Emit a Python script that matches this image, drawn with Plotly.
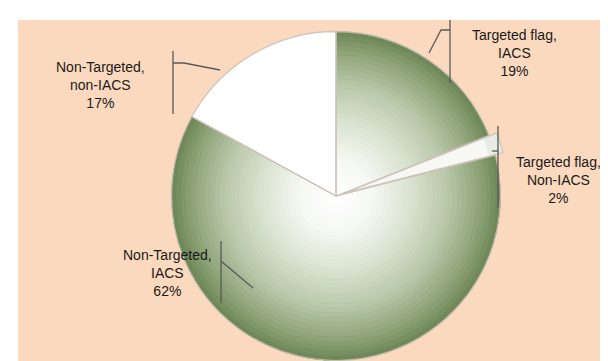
import plotly.graph_objects as go

# ---------------- data ----------------
categories = ["Targeted flag, IACS", "Targeted flag, Non-IACS",
              "Non-Targeted, IACS", "Non-Targeted, non-IACS"]
shares = [19, 2, 62, 17]
pulls = [0, 0.05, 0, 0]

# ---------------- layout constants ----------------
W, H = 608, 361
CX, CY, R = 328, 188, 164.5
PEACH = "#FBD9BE"
TEXT = "#1A1A1A"
LEAD = "#5A5A5A"


def px(x):
    return x / W


def py(y):
    return 1 - y / H


half = R * (1 + max(pulls))
domain = dict(x=[px(CX - half), px(CX + half)], y=[py(CY + half), py(CY - half)])

# radial gradient stops for the green slices (t = fraction of radius)
stops = [(0.0, (255, 255, 255)), (0.22, (246, 248, 243)), (0.45, (218, 227, 210)),
         (0.68, (184, 199, 169)), (0.86, (146, 166, 124)), (1.0, (108, 134, 84))]


def grad(t):
    for (t0, c0), (t1, c1) in zip(stops[:-1], stops[1:]):
        if t <= t1:
            f = (t - t0) / (t1 - t0)
            return "rgb(%d,%d,%d)" % tuple(round(a + (b - a) * f) for a, b in zip(c0, c1))
    return "rgb(%d,%d,%d)" % stops[-1][1]


slice_kind = ["green", "light", "green", "white"]

fig = go.Figure()
N = 34
for i in range(N):
    t = (i + 0.5) / N
    cols = []
    for k in slice_kind:
        if k == "green":
            cols.append(grad(t))
        elif k == "white":
            cols.append("#FFFFFF")
        else:
            cols.append("#F7F8F4" if t < 0.9 else "#E8EBE3")
    fig.add_trace(go.Pie(
        labels=categories, values=shares, pull=pulls, hole=i / N,
        sort=False, direction="clockwise", rotation=0,
        marker=dict(colors=cols, line=dict(width=0)),
        textinfo="none", hoverinfo="none", showlegend=False, domain=domain,
    ))

# slice borders
fig.add_trace(go.Pie(
    labels=categories, values=shares, pull=pulls,
    sort=False, direction="clockwise", rotation=0,
    marker=dict(colors=["rgba(0,0,0,0)"] * 4,
                line=dict(width=1.3, color="rgba(205,192,184,0.9)")),
    textinfo="none", hoverinfo="label+percent", showlegend=False, domain=domain,
))

# ---------------- labels ----------------
def label_text(cat, v):
    a, b = cat.split(", ")
    return f"{a},<br>{b}<br>{v}%"


label_pos = {  # pixel centre of each label block
    "Targeted flag, IACS": (506, 45),
    "Targeted flag, Non-IACS": (550, 172),
    "Non-Targeted, IACS": (159, 265),
    "Non-Targeted, non-IACS": (92, 77),
}
annotations = []
for cat, v in zip(categories, shares):
    x, y = label_pos[cat]
    annotations.append(dict(
        text=label_text(cat, v), x=px(x), y=py(y), xref="paper", yref="paper",
        xanchor="center", yanchor="middle", showarrow=False, align="center",
        font=dict(family="Liberation Sans, Arial, sans-serif", size=14, color=TEXT),
    ))

# ---------------- shapes: background + leader lines ----------------
shapes = [dict(type="rect", xref="paper", yref="paper", x0=px(10), x1=1, y0=0, y1=py(12),
               fillcolor=PEACH, line=dict(width=0), layer="below")]

leaders = [
    [(165, 43), (165, 106)], [(165, 55), (176, 55), (212, 62)],
    [(442, 12), (442, 75)], [(442, 22), (433, 22), (421, 45)],
    [(490, 118), (490, 200)], [(490, 143), (484, 143)],
    [(213, 233), (213, 295)], [(213, 253), (245, 280)],
]
for pts in leaders:
    path = "M " + " L ".join(f"{px(x)},{py(y)}" for x, y in pts)
    shapes.append(dict(type="path", xref="paper", yref="paper", path=path,
                       line=dict(color=LEAD, width=1.3)))

fig.update_layout(
    width=W, height=H, margin=dict(l=0, r=0, t=0, b=0),
    paper_bgcolor="white", plot_bgcolor="white",
    annotations=annotations, shapes=shapes, showlegend=False,
)

fig.write_html("out.html")
